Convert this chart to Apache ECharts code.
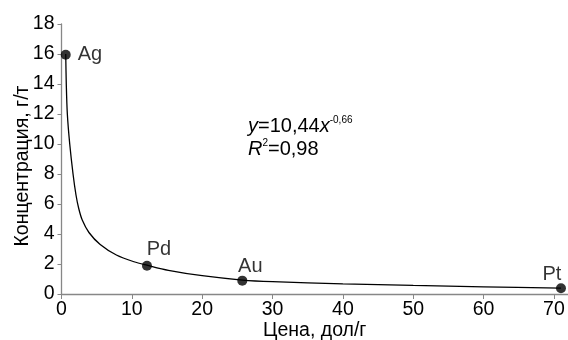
<!DOCTYPE html>
<html>
<head>
<meta charset="utf-8">
<script src="https://cdn.jsdelivr.net/npm/echarts@6/dist/echarts.min.js"></script>
<style>
    html, body { margin: 0; padding: 0; background: #fff; }
    #chart { width: 568px; height: 340px; }
</style>
</head>
<body>
<div id="chart"></div>
<script>
// metals: price (dol/g) vs concentration (g/t)
var metalNames = ['Ag', 'Pd', 'Au', 'Pt'];
var metalPrice = [0.6, 12.15, 25.7, 71.0];
var metalConc = [15.95, 1.88, 0.89, 0.38];

// trend line
var trendX = [0.6, 0.68, 0.83, 1.17, 1.64, 2.06, 2.45, 2.95, 3.9, 5.5, 7.8, 10.3, 12.15, 15.2, 20, 25.7, 30, 40, 50, 60, 71];
var trendY = [16, 14, 12, 10, 8, 6.6, 5.7, 4.93, 4.1, 3.3, 2.6, 2.15, 1.92, 1.58, 1.22, 0.93, 0.82, 0.68, 0.57, 0.48, 0.39];

var xTicks = [0, 10, 20, 30, 40, 50, 60, 70];

var chart = echarts.init(document.getElementById('chart'));
var font = 'Liberation Sans, Arial, sans-serif';
var axisGrey = '#878787';
var fs = 19.5;

// label placement for each metal
var labelPos = {
    Ag: { position: 'right', distance: 7 },
    Pd: { position: 'top', distance: 1, offset: [12, 0] },
    Au: { position: 'top', distance: -1, offset: [8, 0] },
    Pt: { position: 'top', distance: -1, offset: [-9, 0] }
};

var points = metalNames.map(function (n, i) {
    return {
        name: n,
        value: [metalPrice[i], metalConc[i]],
        label: labelPos[n]
    };
});

var trend = trendX.map(function (x, i) {
    return [x, trendY[i]];
});

var option = {
    backgroundColor: '#fff',
    animation: false,
    textStyle: { fontFamily: font },
    grid: {
        left: 61.5,
        right: 0,
        top: 24,
        bottom: 46,
        outerBoundsMode: 'none',
        containLabel: false
    },
    xAxis: {
        type: 'value',
        min: 0,
        max: 72,
        interval: 10,
        name: 'Цена, дол/г',
        nameLocation: 'middle',
        nameGap: 27,
        nameMoveOverlap: false,
        nameTextStyle: { color: '#000', fontSize: fs, fontFamily: font },
        axisLine: { lineStyle: { color: axisGrey, width: 1.3 } },
        axisTick: { show: true, length: 5, lineStyle: { color: axisGrey } },
        axisLabel: {
            color: '#000',
            fontSize: fs,
            fontFamily: font,
            margin: 6,
            formatter: function (v) {
                return xTicks.indexOf(v) >= 0 ? String(v) : '';
            }
        },
        splitLine: { show: false }
    },
    yAxis: {
        type: 'value',
        min: 0,
        max: 18,
        interval: 2,
        name: 'Концентрация, г/т',
        nameLocation: 'middle',
        nameGap: 29,
        nameMoveOverlap: false,
        nameTextStyle: { color: '#000', fontSize: fs, fontFamily: font, padding: [0, 14, 0, 0] },
        axisLine: { show: true, lineStyle: { color: axisGrey, width: 1.3 } },
        axisTick: { show: true, length: 4, lineStyle: { color: axisGrey } },
        axisLabel: { color: '#000', fontSize: fs, fontFamily: font, margin: 7 },
        splitLine: { show: false }
    },
    series: [
        {
            type: 'line',
            data: trend,
            smooth: 0.3,
            showSymbol: false,
            lineStyle: { color: '#000', width: 1.3 },
            z: 2
        },
        {
            type: 'scatter',
            data: points,
            symbolSize: 10,
            itemStyle: { color: '#000' },
            label: {
                show: true,
                formatter: '{b}',
                color: '#000',
                fontSize: 20,
                fontFamily: font
            },
            z: 3
        }
    ],
    graphic: [
        {
            type: 'text',
            left: 248,
            top: 115,
            style: {
                text: '{i|y}{n|=10,44}{i|x}{s|-0,66}\n{i|R}{s|2}{n|=0,98}',
                fill: '#000',
                rich: {
                    n: { fontSize: 20, fontFamily: font, lineHeight: 23 },
                    i: { fontSize: 20, fontFamily: font, fontStyle: 'italic', lineHeight: 23 },
                    s: { fontSize: 10, fontFamily: font, verticalAlign: 'top', lineHeight: 23, padding: [0, 0, 9, 0] }
                }
            }
        }
    ]
};

chart.setOption(option);
</script>
</body>
</html>
